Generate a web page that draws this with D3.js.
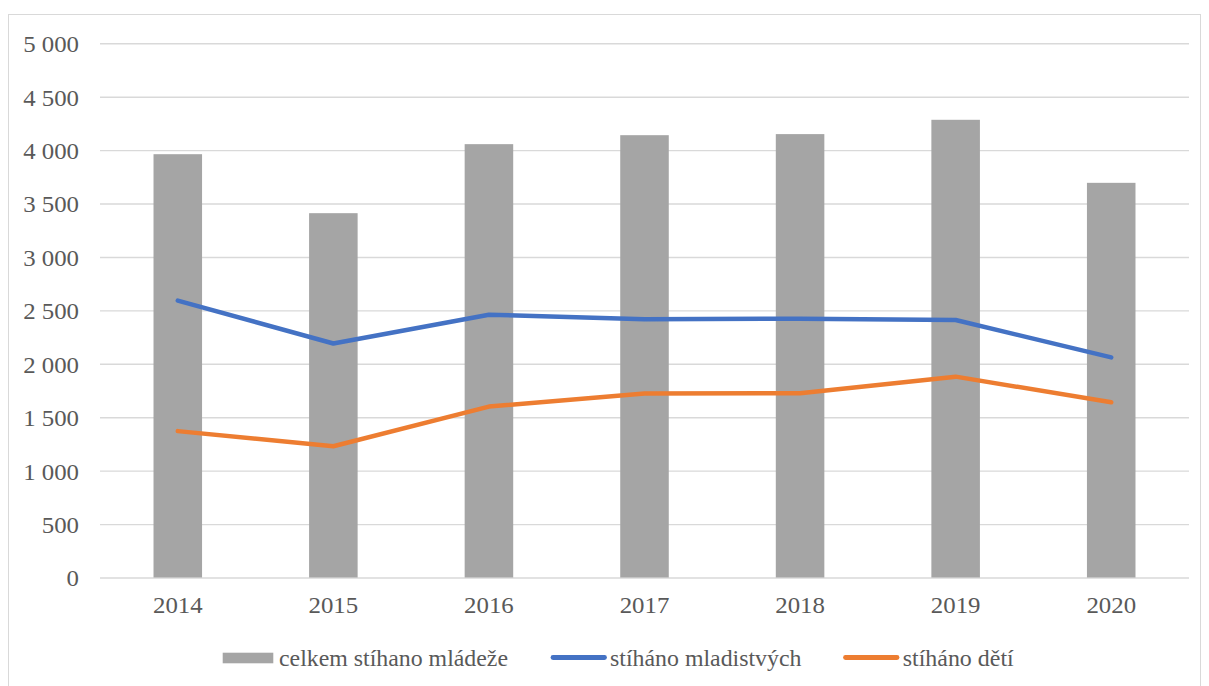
<!DOCTYPE html>
<html><head><meta charset="utf-8">
<script src="https://cdn.jsdelivr.net/npm/d3@7"></script>
<style>html,body{margin:0;padding:0;background:#fff;}svg{display:block;}
#chart text{font-family:"Liberation Serif";}</style>
</head><body>
<svg id="chart" width="1209" height="686" font-family="Liberation Serif"></svg>
<script>
const years = ["2014","2015","2016","2017","2018","2019","2020"];
const celkem = [3962, 3410, 4056, 4140, 4150, 4284, 3694];
const mladistvi = [2592, 2190, 2460, 2418, 2422, 2410, 2060];
const deti = [1370, 1228, 1600, 1722, 1725, 1880, 1640];
const yTicks = [0, 500, 1000, 1500, 2000, 2500, 3000, 3500, 4000, 4500, 5000];
const seriesNames = ["celkem stíhano mládeže", "stíháno mladistvých", "stíháno dětí"];

(function(){
const colors = {bar:"#A5A5A5", blue:"#4472C4", orange:"#ED7D31", grid:"#D9D9D9", text:"#595959"};
const FONT = "Liberation Serif";
const stretch = 1.08;
const svg = d3.select("#chart");

function styleText(sel, size) {
  sel.attr("font-family", FONT).style("font-family", '"Liberation Serif"')
     .attr("font-size", size).style("font-size", size + "px").attr("fill", colors.text);
}
function widen(sel, factor) {
  sel.each(function(){
    const w = this.getComputedTextLength();
    d3.select(this).attr("textLength", w * factor).attr("lengthAdjust", "spacingAndGlyphs");
  });
}

svg.append("rect").attr("x",8.5).attr("y",14.5).attr("width",1192).attr("height",700)
  .attr("fill","none").attr("stroke","#D9D9D9").attr("stroke-width",1);

const mLeft = 100, mRight = 1189, mTop = 43.3, mBottom = 577.5;
const x = d3.scaleBand().domain(years).range([mLeft, mRight]).paddingInner(0.688).paddingOuter(0.344);
const y = d3.scaleLinear().domain([0, 5000]).range([mBottom, mTop]);
const fmt = v => d3.format(",")(v).replace(/,/g, " ");

const gY = svg.append("g").attr("transform", `translate(${mLeft},0)`)
  .call(d3.axisLeft(y).tickValues(yTicks).tickSize(-(mRight-mLeft)).tickFormat(fmt).tickPadding(21));
gY.attr("font-family", FONT).attr("font-size", 23);
gY.select(".domain").remove();
gY.selectAll(".tick line").attr("stroke", colors.grid).attr("stroke-width", 1.4);
const yt = gY.selectAll(".tick text").attr("dy", null).attr("y", 8.4);
styleText(yt, 23);
widen(yt, stretch);

svg.append("g").selectAll("rect").data(years).join("rect")
  .attr("x", d => x(d)).attr("width", x.bandwidth())
  .attr("y", (d,i) => y(celkem[i])).attr("height", (d,i) => y(0) - y(celkem[i]))
  .attr("fill", colors.bar);

const gX = svg.append("g").attr("transform", `translate(0,${mBottom})`)
  .call(d3.axisBottom(x).tickSize(0));
gX.attr("font-family", FONT).attr("font-size", 23);
gX.select(".domain").remove();
const xt = gX.selectAll(".tick text").attr("dy", null).attr("y", 35.8);
styleText(xt, 23);
widen(xt, stretch);

const line = d3.line().x((d,i) => x(years[i]) + x.bandwidth()/2).y(d => y(d));
svg.append("path").datum(mladistvi).attr("d", line).attr("fill","none")
  .attr("stroke", colors.blue).attr("stroke-width", 4.5).attr("stroke-linecap","round").attr("stroke-linejoin","round");
svg.append("path").datum(deti).attr("d", line).attr("fill","none")
  .attr("stroke", colors.orange).attr("stroke-width", 4.5).attr("stroke-linecap","round").attr("stroke-linejoin","round");

// legend
const lg = svg.append("g").attr("font-family", FONT);
const lyMark = 657.5, lyText = 665.7;
lg.append("rect").attr("x",222.7).attr("y",652.7).attr("width",50.6).attr("height",10.6).attr("fill",colors.bar);
const t1 = lg.append("text").attr("x",279).attr("y",lyText).text(seriesNames[0]);
lg.append("line").attr("x1",553).attr("x2",604.5).attr("y1",lyMark).attr("y2",lyMark)
  .attr("stroke",colors.blue).attr("stroke-width",4.8).attr("stroke-linecap","round");
const t2 = lg.append("text").attr("x",610).attr("y",lyText).text(seriesNames[1]);
lg.append("line").attr("x1",845.5).attr("x2",897).attr("y1",lyMark).attr("y2",lyMark)
  .attr("stroke",colors.orange).attr("stroke-width",4.8).attr("stroke-linecap","round");
const t3 = lg.append("text").attr("x",902.7).attr("y",lyText).text(seriesNames[2]);
[t1,t2,t3].forEach(t => styleText(t, 23));
t1.attr("textLength", 229).attr("lengthAdjust","spacingAndGlyphs");
t2.attr("textLength", 191.5).attr("lengthAdjust","spacingAndGlyphs");
t3.attr("textLength", 111).attr("lengthAdjust","spacingAndGlyphs");
})();
</script>
</body></html>
